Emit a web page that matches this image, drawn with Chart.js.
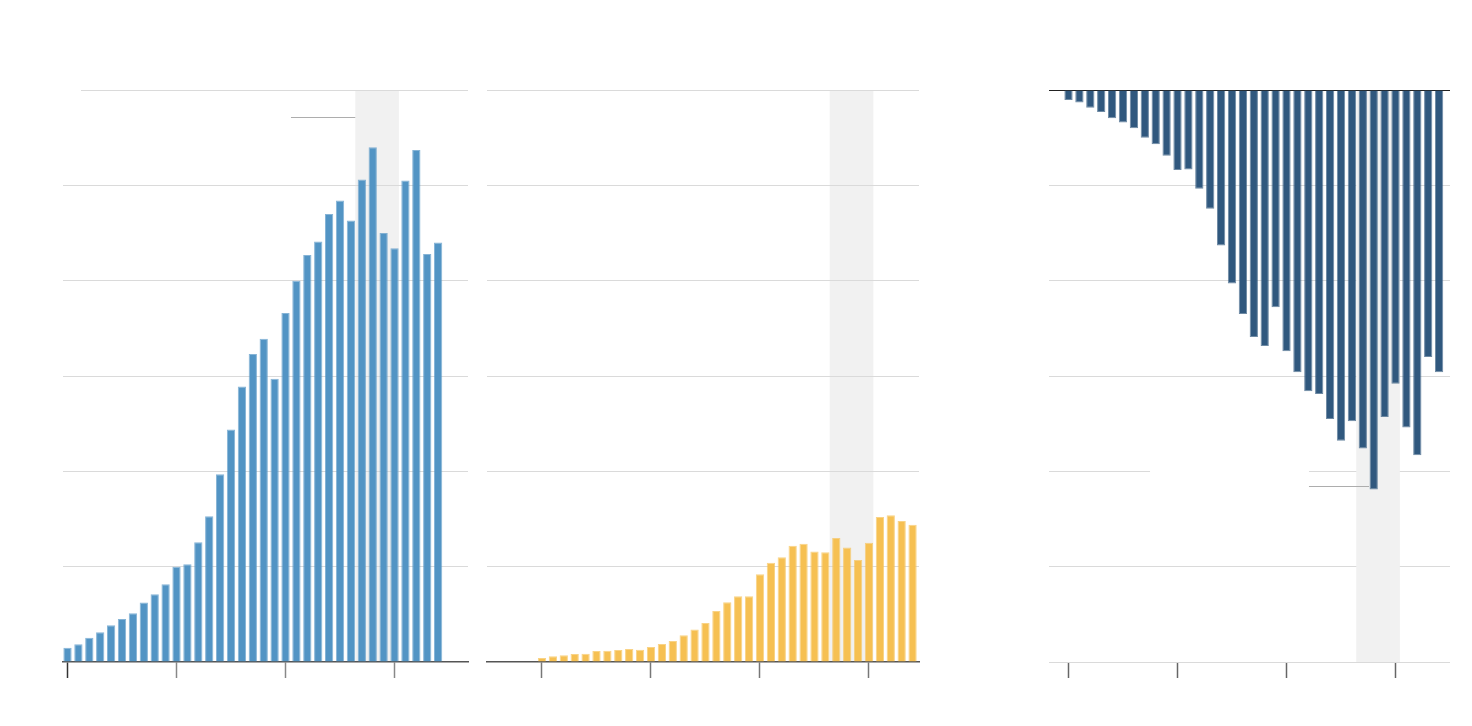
<!DOCTYPE html>
<html>
<head>
<meta charset="utf-8">
<script src="https://cdn.jsdelivr.net/npm/chart.js@4.4.1/dist/chart.umd.min.js"></script>
<style>
  html, body { margin: 0; background: #fff; }
  body { width: 1472px; height: 726px; position: relative; overflow: hidden; }
  .panel { position: absolute; }
</style>
</head>
<body>
<div class="panel" style="left:53px;top:80px"><canvas id="left" width="425" height="608"></canvas></div>
<div class="panel" style="left:477px;top:80px"><canvas id="middle" width="452" height="608"></canvas></div>
<div class="panel" style="left:1039px;top:80px"><canvas id="right" width="421" height="608"></canvas></div>
<script>
// years shown in every panel
const years = [1980, 1981, 1982, 1983, 1984, 1985, 1986, 1987, 1988, 1989,
               1990, 1991, 1992, 1993, 1994, 1995, 1996, 1997, 1998, 1999,
               2000, 2001, 2002, 2003, 2004, 2005, 2006, 2007, 2008, 2009,
               2010, 2011, 2012, 2013, 2014];
const tickYears = [1980, 1990, 2000, 2010];
const shadedSpan = [2006.4, 2010.4];

const blueValues = [1.5, 1.85, 2.55, 3.13, 3.86, 4.52, 5.12, 6.25, 7.1, 8.15,
                    10.0, 10.25, 12.56, 15.3, 19.7, 24.4, 28.9, 32.3, 33.9, 29.7,
                    36.6, 40.0, 42.7, 44.1, 47.0, 48.4, 46.3, 50.6, 54.0, 45.0,
                    43.4, 50.5, 53.7, 42.8, 44.0];
const yellowValues = [0.42, 0.6, 0.7, 0.84, 0.87, 1.15, 1.19, 1.26, 1.36, 1.29,
                      1.57, 1.89, 2.2, 2.8, 3.4, 4.1, 5.35, 6.26, 6.9, 6.9,
                      9.2, 10.4, 11.0, 12.2, 12.4, 11.6, 11.5, 13.0, 12.0, 10.7,
                      12.5, 15.2, 15.4, 14.8, 14.4];
const darkValues = [-1.05, -1.3, -1.85, -2.3, -2.97, -3.4, -4.0, -5.0, -5.7, -6.9,
                    -8.4, -8.35, -10.35, -12.45, -16.3, -20.3, -23.5, -25.9, -26.85, -22.8,
                    -27.4, -29.6, -31.6, -31.9, -34.5, -36.8, -34.75, -37.6, -41.9, -34.3,
                    -30.8, -35.4, -38.3, -28.0, -29.6];


function drawShade(chart, opts) {
    const {ctx, chartArea, scales: {x}} = chart;
    const x0 = x.getPixelForValue(opts.shade[0]);
    const x1 = x.getPixelForValue(opts.shade[1]);
    const top = chartArea.top + (opts.shadeOver ? 1 : 0);
    ctx.save();
    ctx.fillStyle = '#f1f1f1';
    ctx.fillRect(x0, top, x1 - x0, chartArea.bottom - top);
    ctx.restore();
}

// shaded band, breaks in gridlines and the thin leader lines
const extras = {
    id: 'extras',
    beforeDraw(chart, args, opts) {
        if (opts.shade && !opts.shadeOver) drawShade(chart, opts);
    },
    beforeDatasetsDraw(chart, args, opts) {
        const {ctx, chartArea, scales: {x, y}} = chart;
        if (opts.shade && opts.shadeOver) drawShade(chart, opts);
        ctx.save();
        (opts.gaps || []).forEach(g => {
            const py = y.getPixelForValue(g.y);
            const a = Math.max(x.getPixelForValue(g.from), chartArea.left - 2);
            const b = x.getPixelForValue(g.to);
            ctx.fillStyle = '#fff';
            ctx.fillRect(a, py - 1.5, b - a, 3);
        });
        (opts.leaders || []).forEach(l => {
            const py = Math.round(y.getPixelForValue(l.y)) + 0.5;
            ctx.strokeStyle = '#adadad';
            ctx.lineWidth = 1;
            ctx.beginPath();
            ctx.moveTo(x.getPixelForValue(l.from), py);
            ctx.lineTo(x.getPixelForValue(l.to), py);
            ctx.stroke();
        });
        ctx.restore();
    }
};


function makePanel(canvasId, values, fill, edge, cfg) {
    const data = {
        datasets: [{
            data: values.map((v, i) => ({x: years[i], y: v})),
            backgroundColor: fill,
            borderColor: edge,
            borderWidth: 1,
            barPercentage: 0.95,
            categoryPercentage: 0.8
        }]
    };
    const config = {
        type: 'bar',
        data,
        plugins: [extras],
        options: {
            responsive: false,
            animation: false,
            layout: {padding: 10},
            plugins: {
                legend: {display: false},
                tooltip: {enabled: false},
                extras: cfg.extras
            },
            scales: {
                x: {
                    type: 'linear',
                    offset: false,
                    min: cfg.xMin,
                    max: cfg.xMax,
                    afterBuildTicks: scale => { scale.ticks = tickYears.map(v => ({value: v})); },
                    ticks: {display: false},
                    grid: {
                        offset: false,
                        drawOnChartArea: false,
                        drawTicks: true,
                        tickLength: 16,
                        tickWidth: 1.5,
                        tickColor: cfg.tickColor
                    },
                    border: cfg.xBorder
                },
                y: {
                    min: cfg.yMin,
                    max: cfg.yMax,
                    ticks: {display: false, stepSize: 10},
                    grid: {drawTicks: false, color: cfg.gridColor, lineWidth: 1},
                    border: {display: false}
                }
            }
        }
    };
    return new Chart(document.getElementById(canvasId), config);
}


makePanel('left', blueValues, '#5294c4', 'rgba(82,148,196,0.7)', {
    xMin: 1979.587, xMax: 2016.74,
    yMin: 0, yMax: 60,
    tickColor: ctx => ctx.index === 0 ? '#333' : '#888',
    gridColor: ctx => ctx.tick.value === 0 ? 'rgba(0,0,0,0)' : '#dadada',
    xBorder: {display: true, color: '#555', width: 1.5},
    extras: {
        shade: shadedSpan,
        shadeOver: false,
        gaps: [{y: 60, from: 1970, to: 1981.24}],
        leaders: [{y: 57.17, from: 2000.5, to: 2006.4}]
    }
});

makePanel('middle', yellowValues, '#f6c052', 'rgba(246,192,82,0.7)', {
    xMin: 1974.954, xMax: 2014.59,
    yMin: 0, yMax: 60,
    tickColor: '#777',
    gridColor: ctx => ctx.tick.value === 0 ? 'rgba(0,0,0,0)' : '#dadada',
    xBorder: {display: true, color: '#555', width: 1.5},
    extras: {shade: shadedSpan, shadeOver: false}
});

makePanel('right', darkValues, '#30587e', 'rgba(48,88,126,0.7)', {
    xMin: 1978.21, xMax: 2015.0,
    yMin: -60, yMax: 0,
    tickColor: '#666',
    gridColor: ctx => ctx.tick.value === 0 ? '#222' : '#dadada',
    xBorder: {display: false},
    extras: {
        shade: shadedSpan,
        shadeOver: true,
        gaps: [{y: -40, from: 1987.48, to: 2002.06}],
        leaders: [{y: -41.54, from: 2002.06, to: 2007.57}]
    }
});
</script>
</body>
</html>
